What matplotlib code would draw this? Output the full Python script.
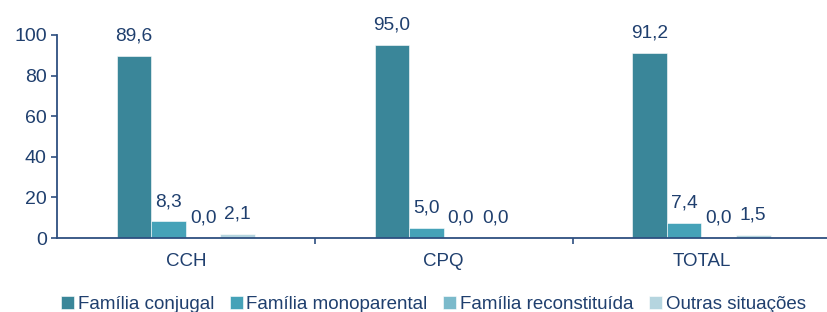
import numpy as np
import matplotlib.pyplot as plt

plt.rcParams['font.family'] = ['Liberation Sans', 'DejaVu Sans']

categorias = ['CCH', 'CPQ', 'TOTAL']
series = ['Família conjugal', 'Família monoparental', 'Família reconstituída', 'Outras situações']
conjugal = [89.6, 95.0, 91.2]
monoparental = [8.3, 5.0, 7.4]
reconstituida = [0.0, 0.0, 0.0]
outras = [2.1, 0.0, 1.5]
valores = [conjugal, monoparental, reconstituida, outras]
cores = ['#3A8699', '#45A2B8', '#7BBACB', '#B5D5DF']
texto = '#1F3F6E'
eixo = '#2E4F80'

fig = plt.figure(figsize=(8.27, 3.12), dpi=100)
ax = fig.add_axes([0.069, 0.237, 0.935, 0.651])

x = np.arange(len(categorias))
w = 0.134
for i, (nome, vals) in enumerate(zip(series, valores)):
    pos = x + (i - 1.5) * w
    ax.bar(pos, vals, w, color=cores[i], label=nome, edgecolor='white', linewidth=0.4)
    for p, v in zip(pos, vals):
        ax.annotate(f'{v:.1f}'.replace('.', ','), (p, v), xytext=(0, 8), textcoords='offset points',
                    ha='center', va='bottom', fontsize=13.8, color=texto)

ax.set_xlim(-0.5, 2.5)
ax.set_ylim(0, 100)
ax.set_yticks(range(0, 101, 20))
ax.set_xticks(x)
ax.set_xticklabels(categorias)
ax.set_xticks([0.5, 1.5], minor=True)
ax.tick_params(axis='x', which='major', length=0, pad=11, labelsize=13.5, labelcolor=texto)
ax.tick_params(axis='x', which='minor', length=4, direction='out', color=eixo, width=1.2)
ax.tick_params(axis='y', length=4, color=eixo, width=1.2, labelsize=14, labelcolor=texto)
for s in ['top', 'right']:
    ax.spines[s].set_visible(False)
for s in ['left', 'bottom']:
    ax.spines[s].set_color(eixo)
    ax.spines[s].set_linewidth(1.3)

fig.legend(loc='center', bbox_to_anchor=(0.524, 0.025), ncol=4, frameon=False, fontsize=13.5,
           handlelength=0.7, handleheight=0.7, handletextpad=0.2, columnspacing=0.83, labelcolor=texto)

fig.savefig('out.png', dpi=100)
